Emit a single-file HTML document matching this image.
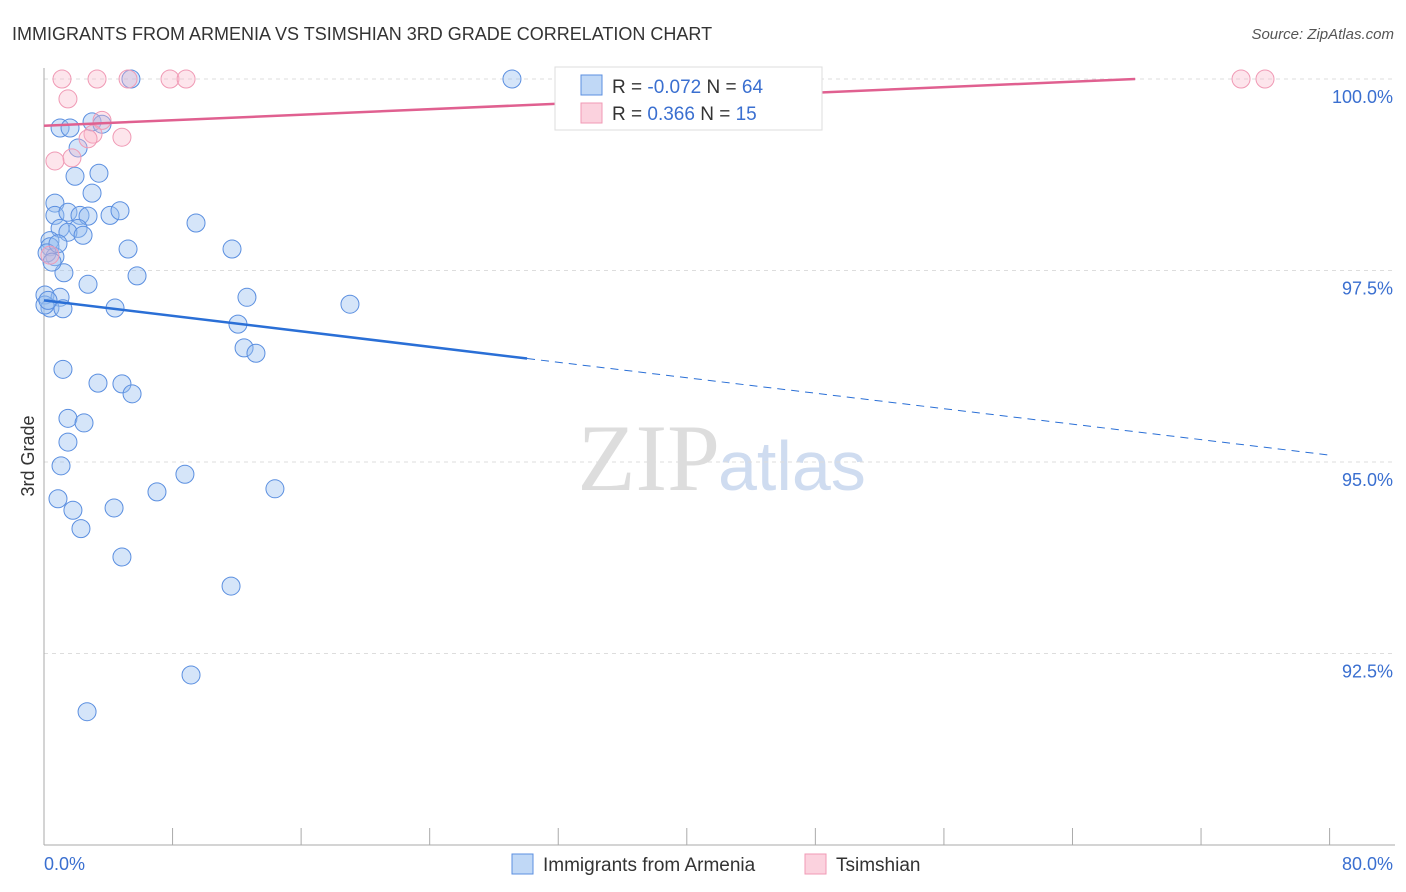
<!DOCTYPE html>
<html><head><meta charset="utf-8"><style>
body{margin:0;background:#fff;font-family:"Liberation Sans",sans-serif;}
#wrap{position:relative;width:1406px;height:892px;overflow:hidden;}
</style></head><body>
<div id="wrap">
<svg id="svg" width="1406" height="892"></svg>
</div>
<script>
const blueX=[5.41,29.12,1.0,1.62,2.99,3.61,2.12,1.93,3.42,2.99,0.68,0.68,1.49,2.24,2.74,4.11,4.73,9.46,1.0,2.12,1.49,2.43,0.37,0.37,0.68,5.23,11.7,0.19,1.24,5.79,2.74,0.06,1.0,12.63,19.04,0.37,1.18,4.42,12.07,12.45,13.19,1.18,3.36,4.85,5.48,1.49,2.49,1.49,1.06,8.77,7.03,14.37,0.87,1.8,4.36,2.3,4.85,11.64,9.15,2.68,0.06,0.25,0.5,0.87];
const blueY=[100,100,99.36,99.36,99.44,99.41,99.1,98.73,98.77,98.51,98.38,98.22,98.26,98.22,98.21,98.22,98.28,98.12,98.05,98.05,98.0,97.96,97.89,97.81,97.68,97.78,97.78,97.73,97.47,97.43,97.32,97.18,97.15,97.15,97.06,97.01,97.0,97.01,96.8,96.49,96.42,96.21,96.03,96.02,95.89,95.57,95.51,95.26,94.95,94.84,94.61,94.65,94.52,94.37,94.4,94.13,93.76,93.38,92.22,91.74,97.05,97.11,97.61,97.85];
const pinkX=[1.12,3.3,5.23,7.84,8.84,74.49,75.98,1.49,3.61,3.05,4.85,2.74,1.74,0.68,0.37];
const pinkY=[100,100,100,100,100,100,100,99.74,99.46,99.28,99.24,99.22,98.97,98.93,97.7];
const yTicks=[100,97.5,95,92.5];
const yTickLabels=["100.0%","97.5%","95.0%","92.5%"];
const blueTrend=[97.11,95.09];
const pinkTrend=[99.39,100];
const NS="http://www.w3.org/2000/svg";
const svg=document.getElementById('svg');
const X=v=>44+v*16.07;
const Y=v=>79+(100-v)*76.6;
function el(t,a,txt){const e=document.createElementNS(NS,t);for(const k in a)e.setAttribute(k,a[k]);if(txt!==undefined)e.textContent=txt;svg.appendChild(e);return e;}
let t=el('text',{x:12,y:40,'font-size':18,fill:'#333'},'IMMIGRANTS FROM ARMENIA VS TSIMSHIAN 3RD GRADE CORRELATION CHART');

t=el('text',{x:1394,y:39,'font-size':15,fill:'#555','font-style':'italic','text-anchor':'end'},'Source: ZipAtlas.com');

t=el('text',{x:720,y:490,'font-size':95,fill:'#ddd','text-anchor':'end','font-family':'Liberation Serif'},'ZIP');

t=el('text',{x:718,y:490,'font-size':70,fill:'#cfdcf0'},'atlas');

yTicks.forEach((v,i)=>{
 let g=el('line',{x1:44,x2:1395,y1:Y(v),y2:Y(v),stroke:'#ddd','stroke-dasharray':'4,4'});
 
 let l=el('text',{x:1393,y:Y(v)+24,'font-size':18,fill:'#3a6fd0','text-anchor':'end'},yTickLabels[i]);
 
});
let a=el('line',{x1:44,x2:44,y1:68,y2:845,stroke:'#aaa'});
a=el('line',{x1:44,x2:1395,y1:845,y2:845,stroke:'#aaa'});
for(let i=1;i<=10;i++){let k=el('line',{x1:X(i*8),x2:X(i*8),y1:828,y2:845,stroke:'#aaa'});}
t=el('text',{x:44,y:870,'font-size':18,fill:'#3a6fd0'},'0.0%');
t=el('text',{x:1393,y:870,'font-size':18,fill:'#3a6fd0','text-anchor':'end'},'80.0%');
t=el('text',{x:34,y:456,'font-size':18,fill:'#333','text-anchor':'middle',transform:'rotate(-90 34 456)'},'3rd Grade');
blueX.forEach((x,i)=>{let c=el('circle',{cx:X(x),cy:Y(blueY[i]),r:9,fill:'rgba(150,190,240,0.4)',stroke:'#5b8fe0','stroke-width':1});
 });
pinkX.forEach((x,i)=>{let c=el('circle',{cx:X(x),cy:Y(pinkY[i]),r:9,fill:'rgba(248,180,200,0.35)',stroke:'#f09ab5','stroke-width':1});
 });
const bAt=x=>blueTrend[0]+(blueTrend[1]-blueTrend[0])*x/80;
let ln=el('line',{x1:X(0),y1:Y(bAt(0)),x2:X(30.06),y2:Y(bAt(30.06)),stroke:'#2a6fd6','stroke-width':2.5});
ln=el('line',{x1:X(30.06),y1:Y(bAt(30.06)),x2:X(80),y2:Y(bAt(80)),stroke:'#2a6fd6','stroke-width':1,'stroke-dasharray':'8,6'});
ln=el('line',{x1:X(0),y1:Y(pinkTrend[0]),x2:X(67.9),y2:Y(pinkTrend[1]),stroke:'#e06090','stroke-width':2.5});
let r=el('rect',{x:555,y:67,width:267,height:63,fill:'#fff',stroke:'#ddd'});
r=el('rect',{x:581,y:75,width:21,height:20,fill:'rgba(150,190,240,0.6)',stroke:'#5b8fe0'});
r=el('rect',{x:581,y:103,width:21,height:20,fill:'rgba(248,180,200,0.6)',stroke:'#f09ab5'});
function rich(x,y,parts,name){let e=el('text',{x:x,y:y,'font-size':19,fill:'#333'});
 parts.forEach(p=>{let s=document.createElementNS(NS,'tspan');s.setAttribute('fill',p[1]);s.textContent=p[0];e.appendChild(s);});}
rich(612,93,[['R = ','#333'],['-0.072','#3a6fd0'],['   N = ','#333'],['64','#3a6fd0']],'legend-blue-stats');
rich(612,120,[['R =  ','#333'],[' 0.366','#3a6fd0'],['   N =  ','#333'],['15','#3a6fd0']],'legend-pink-stats');
r=el('rect',{x:512,y:854,width:21,height:20,fill:'rgba(150,190,240,0.6)',stroke:'#5b8fe0'});
t=el('text',{x:543,y:871,'font-size':19,fill:'#333'},'Immigrants from Armenia');
r=el('rect',{x:805,y:854,width:21,height:20,fill:'rgba(248,180,200,0.6)',stroke:'#f09ab5'});
t=el('text',{x:836,y:871,'font-size':19,fill:'#333'},'Tsimshian');
</script>
</body></html>
